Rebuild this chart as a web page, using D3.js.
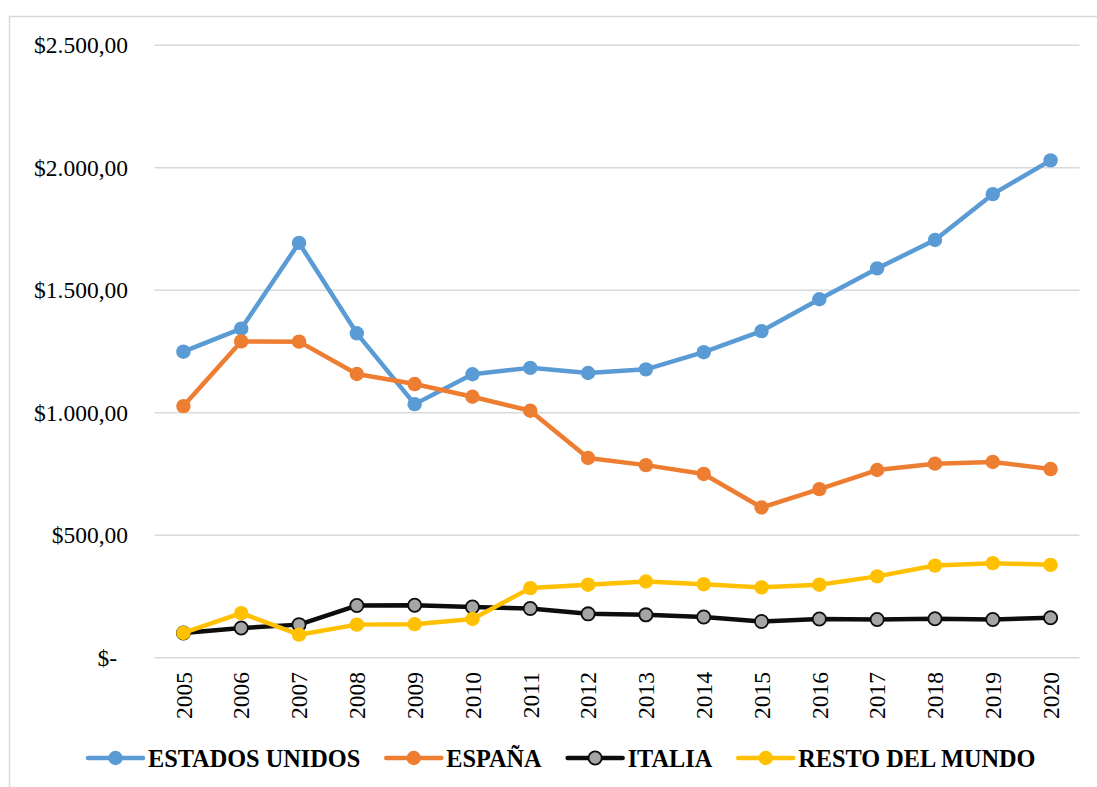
<!DOCTYPE html>
<html>
<head>
<meta charset="utf-8">
<script src="https://cdn.jsdelivr.net/npm/d3@7"></script>
<style>
  html, body { margin: 0; padding: 0; background: #fff; }
  svg { display: block; }
</style>
</head>
<body>
<svg id="chart" width="1097" height="787"></svg>
<script>
const years = ["2005","2006","2007","2008","2009","2010","2011","2012","2013","2014","2015","2016","2017","2018","2019","2020"];
const estadosUnidos = [1249, 1343, 1693, 1324, 1035, 1157, 1183, 1162, 1177, 1247, 1333, 1463, 1589, 1705, 1892, 2030];
const espana        = [1027, 1291, 1290, 1158, 1117, 1065, 1008, 815, 786, 750, 613, 688, 766, 792, 799, 770];
const italia        = [101, 121, 135, 213, 214, 207, 201, 179, 175, 166, 148, 158, 156, 159, 156, 163];
const restoMundo    = [101, 182, 94, 135, 137, 158, 284, 298, 311, 300, 287, 298, 332, 376, 386, 379];
const yTicks = [0, 500, 1000, 1500, 2000, 2500];
const seriesNames = ["ESTADOS UNIDOS", "ESPAÑA", "ITALIA", "RESTO DEL MUNDO"];

const series = [
  { name: seriesNames[0], values: estadosUnidos, color: "#5b9bd5", fill: "#5b9bd5", stroke: "none" },
  { name: seriesNames[1], values: espana, color: "#ed7d31", fill: "#ed7d31", stroke: "none" },
  { name: seriesNames[2], values: italia, color: "#0d0d0d", fill: "#a5a5a5", stroke: "#0d0d0d" },
  { name: seriesNames[3], values: restoMundo, color: "#ffc000", fill: "#ffc000", stroke: "none" }
];

const svg = d3.select("#chart");
const FONT = "'Liberation Serif', 'Times New Roman', serif";

// outer chart border
svg.append("rect")
  .attr("x", 9.5).attr("y", 16.5)
  .attr("width", 1200).attr("height", 900)
  .attr("fill", "none").attr("stroke", "#d9d9d9").attr("stroke-width", 1.5);

const x = d3.scaleBand().domain(years).range([154.5, 1079.5]).padding(0);
const y = d3.scaleLinear().domain([0, 2500]).range([657.7, 45.2]);

// gridlines
svg.append("g")
  .selectAll("line").data(yTicks).join("line")
  .attr("x1", 154.5).attr("x2", 1079.5)
  .attr("y1", d => y(d)).attr("y2", d => y(d))
  .attr("stroke", "#d9d9d9").attr("stroke-width", 1.6);

// y axis labels
const fmt = v => v === 0 ? "$-" : "$" + d3.format(",.2f")(v).replace(/,/g, "#").replace(".", ",").replace(/#/g, ".");
const yAxis = d3.axisLeft(y).tickValues(yTicks).tickFormat(fmt).tickSize(0).tickPadding(0);
const gy = svg.append("g").attr("transform", "translate(128,0)").call(yAxis);
gy.select(".domain").remove();
gy.selectAll("text")
  .attr("font-family", FONT).attr("font-size", "23.5px").attr("fill", "#000")
  .attr("x", d => d === 0 ? -11 : 0);

// x axis labels
const xAxis = d3.axisBottom(x).tickSize(0).tickPadding(0);
const gx = svg.append("g").attr("transform", "translate(0,672)").call(xAxis);
gx.select(".domain").remove();
gx.selectAll("text")
  .attr("font-family", FONT).attr("font-size", "23.5px").attr("fill", "#000")
  .attr("transform", "rotate(-90)")
  .attr("text-anchor", "end")
  .attr("x", 0).attr("y", 0).attr("dy", "0.35em");

// lines and markers
const line = d3.line().x((d, i) => x(years[i]) + x.bandwidth() / 2).y(d => y(d));
series.forEach(s => {
  const g = svg.append("g");
  g.append("path")
    .attr("d", line(s.values))
    .attr("fill", "none").attr("stroke", s.color)
    .attr("stroke-width", 4.5).attr("stroke-linejoin", "round").attr("stroke-linecap", "round");
  g.selectAll("circle").data(s.values).join("circle")
    .attr("cx", (d, i) => x(years[i]) + x.bandwidth() / 2)
    .attr("cy", d => y(d))
    .attr("r", s.stroke === "none" ? 7.2 : 6.6)
    .attr("fill", s.fill)
    .attr("stroke", s.stroke)
    .attr("stroke-width", s.stroke === "none" ? 0 : 1.8);
});

// legend
const legend = svg.append("g").attr("transform", "translate(0,758)");
let cursor = 88;
series.forEach(s => {
  const item = legend.append("g").attr("transform", `translate(${cursor},0)`);
  item.append("line").attr("x1", 0).attr("x2", 55).attr("y1", 0).attr("y2", 0)
    .attr("stroke", s.color).attr("stroke-width", 4.5).attr("stroke-linecap", "round");
  item.append("circle").attr("cx", 27.5).attr("cy", 0)
    .attr("r", s.stroke === "none" ? 7.2 : 6.6)
    .attr("fill", s.fill).attr("stroke", s.stroke)
    .attr("stroke-width", s.stroke === "none" ? 0 : 1.8);
  const t = item.append("text").attr("x", 60).attr("y", 0).attr("dy", "0.35em")
    .attr("font-family", FONT).attr("font-size", "24.3px").attr("font-weight", "bold")
    .attr("fill", "#000").text(s.name);
  cursor += 60 + t.node().getComputedTextLength() + 26;
});
</script>
</body>
</html>
